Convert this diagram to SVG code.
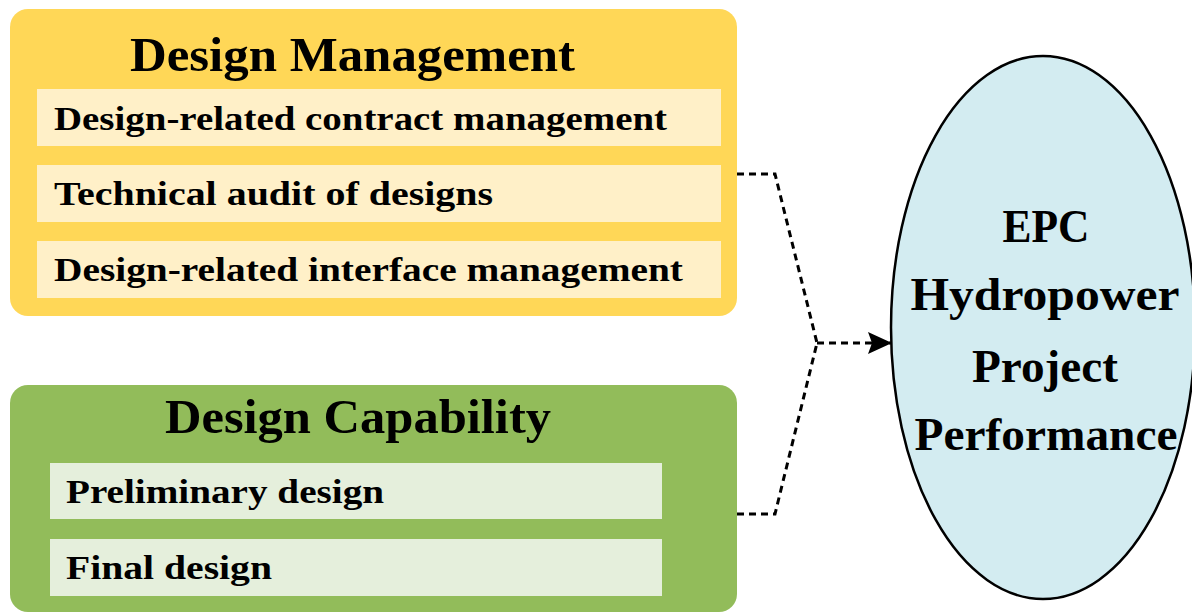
<svg xmlns="http://www.w3.org/2000/svg" width="1192" height="613" viewBox="0 0 1192 613">
  <style>
    .title { font-family: "Liberation Serif", "Times New Roman", serif; font-weight: bold; font-size: 49px; fill: #000; }
    .item { font-family: "Liberation Serif", "Times New Roman", serif; font-weight: bold; font-size: 34px; fill: #000; }
    .goal { font-family: "Liberation Serif", "Times New Roman", serif; font-weight: bold; font-size: 46px; fill: #000; text-anchor: middle; }
    .mgmt-box { fill: #FFD757; }
    .mgmt-bar { fill: #FFF0C8; }
    .cap-box { fill: #92BC5A; }
    .cap-bar { fill: #E5EFDC; }
    .link { fill: none; stroke: #000; stroke-width: 3; stroke-dasharray: 7 5; }
  </style>
  <defs>
    <marker id="arrow" markerWidth="24" markerHeight="22" refX="23" refY="11" orient="auto" markerUnits="userSpaceOnUse">
      <path d="M0,0 L24,11 L0,22 L4,11 Z" fill="#000"/>
    </marker>
  </defs>

  <rect width="1192" height="613" fill="#fff"/>

  <!-- Design Management group -->
  <g id="design-management">
    <rect class="mgmt-box" x="10" y="9" width="727" height="307" rx="18"/>
    <text class="title" x="130" y="71" textLength="445" lengthAdjust="spacingAndGlyphs">Design Management</text>
    <rect class="mgmt-bar" x="37" y="89" width="684" height="57"/>
    <text class="item" x="54" y="130" textLength="613" lengthAdjust="spacingAndGlyphs">Design-related contract management</text>
    <rect class="mgmt-bar" x="37" y="165" width="684" height="57"/>
    <text class="item" x="54" y="205" textLength="439" lengthAdjust="spacingAndGlyphs">Technical audit of designs</text>
    <rect class="mgmt-bar" x="37" y="241" width="684" height="57"/>
    <text class="item" x="54" y="281" textLength="629" lengthAdjust="spacingAndGlyphs">Design-related interface management</text>
  </g>

  <!-- Design Capability group -->
  <g id="design-capability">
    <rect class="cap-box" x="10" y="385" width="727" height="227" rx="18"/>
    <text class="title" x="165" y="433" textLength="386" lengthAdjust="spacingAndGlyphs">Design Capability</text>
    <rect class="cap-bar" x="50" y="463" width="612" height="56"/>
    <text class="item" x="66" y="503" textLength="318" lengthAdjust="spacingAndGlyphs">Preliminary design</text>
    <rect class="cap-bar" x="50" y="539" width="612" height="57"/>
    <text class="item" x="66" y="579" textLength="206" lengthAdjust="spacingAndGlyphs">Final design</text>
  </g>

  <!-- Outcome ellipse -->
  <g id="project-performance">
    <ellipse cx="1043" cy="327.5" rx="152" ry="271.5" fill="#D3ECF1" stroke="#000" stroke-width="2.5"/>
    <text class="goal" x="1046" y="242" textLength="87" lengthAdjust="spacingAndGlyphs">EPC</text>
    <text class="goal" x="1045" y="310" textLength="269" lengthAdjust="spacingAndGlyphs">Hydropower</text>
    <text class="goal" x="1045" y="382" textLength="146" lengthAdjust="spacingAndGlyphs">Project</text>
    <text class="goal" x="1046" y="450" textLength="263" lengthAdjust="spacingAndGlyphs">Performance</text>
  </g>

  <!-- Connectors -->
  <g id="connectors">
    <polyline class="link" points="737,174 775,174 817,343"/>
    <polyline class="link" points="737,514 775,514 817,343"/>
    <line class="link" x1="817" y1="343" x2="891" y2="343" marker-end="url(#arrow)"/>
  </g>
</svg>
